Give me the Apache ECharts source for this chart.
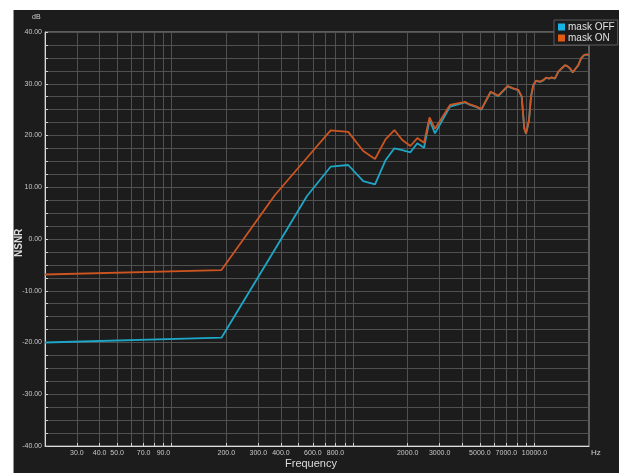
<!DOCTYPE html>
<html>
<head>
<meta charset="utf-8">
<script src="https://cdn.jsdelivr.net/npm/echarts@6/dist/echarts.min.js"></script>
<style>
  html, body { margin: 0; padding: 0; background: #ffffff; }
  #panel { position: absolute; left: 13px; top: 10px; width: 606px; height: 463px;
           background: #1c1c1c; border-left: 1px solid #8b95a3; box-sizing: border-box; }
  #chart { position: absolute; left: 0; top: 0; width: 619px; height: 473px; }
</style>
</head>
<body>
<div id="panel"></div>
<div id="chart"></div>
<script>
// Frequency points (Hz) shared by both traces
const freqs = [20, 188, 371, 557, 752, 940, 1138, 1321, 1513, 1690, 1868, 2070, 2260, 2461, 2640, 2830,
  3424, 4144, 4416, 4800, 5100, 5740, 6320, 7120, 7650, 8150, 8330, 8512, 8686, 8796, 8988, 9136,
  9336, 9574, 9860, 10206, 10738, 11196, 11588, 12078, 12452, 12986, 13542, 14142, 14748, 15186,
  15716, 16262, 16744, 17460, 18068, 18770, 19424, 20000];

// NSNR in dB, masking disabled
const maskOff = [-20.0, -19.07, -1.97, 8.3, 13.97, 14.3, 11.2, 10.57, 15.27, 17.53, 17.16, 16.75, 18.49, 17.64, 23.0, 20.4,
  25.6, 26.4, 25.9, 25.5, 25.0, 28.4, 27.6, 29.5, 29.05, 28.75, 28.4, 27.45, 23.55, 21.35, 20.35, 20.65,
  22.95, 27.45, 29.7, 30.55, 30.35, 30.65, 31.15, 31.0, 31.2, 31.0, 32.3, 32.95, 33.55, 33.4,
  32.95, 32.2, 32.75, 33.55, 34.85, 35.5, 35.65, 35.5];

// NSNR in dB, masking enabled
const maskOn = [-6.86, -6.0, 8.5, 15.7, 21.0, 20.7, 17.0, 15.46, 19.3, 21.06, 19.13, 17.97, 19.5, 18.6, 23.5, 21.3,
  25.9, 26.5, 26.0, 25.57, 25.1, 28.46, 27.7, 29.57, 29.1, 28.8, 28.46, 27.5, 23.6, 21.4, 20.4, 20.7,
  23.0, 27.5, 29.76, 30.6, 30.4, 30.7, 31.2, 31.05, 31.25, 31.05, 32.33, 33.0, 33.6, 33.4,
  33.0, 32.2, 32.8, 33.6, 34.9, 35.56, 35.7, 35.56];

// Grid / tick positions on the frequency axis, and the ones carrying a label
const freqGrid = [30, 40, 50, 60, 70, 80, 90, 100, 200, 300, 400, 500, 600, 700, 800, 900, 1000,
  2000, 3000, 4000, 5000, 6000, 7000, 8000, 9000, 10000];
const freqLabels = [30, 40, 50, 70, 90, 200, 300, 400, 600, 800, 2000, 3000, 5000, 7000, 10000];

const seriesNames = ['mask OFF', 'mask ON'];

const chart = echarts.init(document.getElementById('chart'), null, { renderer: 'canvas' });
const font = 'Liberation Sans, Arial, sans-serif';

chart.setOption({
  backgroundColor: 'transparent',
  animation: false,
  textStyle: { fontFamily: font },
  grid: { left: 45, top: 32, right: 30, bottom: 27, show: true,
          backgroundColor: '#1c1c1c', borderColor: '#a0a0a0', borderWidth: 1 },
  legend: {
    data: [
      { name: seriesNames[0], itemStyle: { color: '#19b2e4' } },
      { name: seriesNames[1], itemStyle: { color: '#e25a14' } }
    ],
    orient: 'vertical', left: 554, top: 20,
    icon: 'rect', itemWidth: 7, itemHeight: 7, itemGap: 1,
    padding: [2, 3, 2, 4],
    backgroundColor: '#1c1c1c', borderColor: '#5a5a5a', borderWidth: 1,
    textStyle: { color: '#e0e0e0', fontSize: 10, fontFamily: font, padding: [0, 0, 0, -2] }
  },
  xAxis: {
    type: 'log', logBase: 10, min: 20, max: 20000,
    axisLine: { onZero: false, lineStyle: { color: '#dcdcdc', width: 1 } },
    axisTick: { inside: true, length: 3, customValues: freqGrid, lineStyle: { color: '#cfcfcf' } },
    axisLabel: { customValues: freqLabels, color: '#c8c8c8', fontSize: 7, margin: 4,
                 formatter: v => Number(v).toFixed(1) },
    splitLine: { show: true, lineStyle: { color: '#505050', width: 1 } },
    minorTick: { show: false }, minorSplitLine: { show: false }
  },
  yAxis: {
    type: 'value', min: -40, max: 40, interval: 2.5,
    axisLine: { show: true, onZero: false, lineStyle: { color: '#dcdcdc', width: 1 } },
    axisTick: { inside: true, length: 3, lineStyle: { color: '#cfcfcf' } },
    axisLabel: { color: '#c8c8c8', fontSize: 7, margin: 3, showMinLabel: true, showMaxLabel: true,
                 formatter: v => (Math.abs(v % 10) < 1e-9 ? v.toFixed(2) : '') },
    splitLine: { show: true, lineStyle: { color: '#505050', width: 1 } }
  },
  graphic: [
    { type: 'text', left: 32, top: 14, style: { text: 'dB', fill: '#d0d0d0', fontSize: 7, fontFamily: font } },
    { type: 'text', left: 591, top: 449, style: { text: 'Hz', fill: '#d0d0d0', fontSize: 8, fontFamily: font } },
    { type: 'text', left: 285, top: 458, style: { text: 'Frequency', fill: '#dcdcdc', fontSize: 11, fontFamily: font } },
    { type: 'text', x: 14, y: 257, rotation: Math.PI / 2,
      style: { text: 'NSNR', fill: '#dcdcdc', fontSize: 10, fontWeight: 'bold', fontFamily: font } }
  ],
  series: [
    { name: seriesNames[0], type: 'line', showSymbol: false, symbol: 'none',
      data: freqs.map((f, i) => [f, maskOff[i]]),
      lineStyle: { color: '#1ea6c6', width: 1.8 }, itemStyle: { color: '#1ea6c6' } },
    { name: seriesNames[1], type: 'line', showSymbol: false, symbol: 'none',
      data: freqs.map((f, i) => [f, maskOn[i]]),
      lineStyle: { color: '#cc5522', width: 1.8 }, itemStyle: { color: '#cc5522' } }
  ]
});
</script>
</body>
</html>
